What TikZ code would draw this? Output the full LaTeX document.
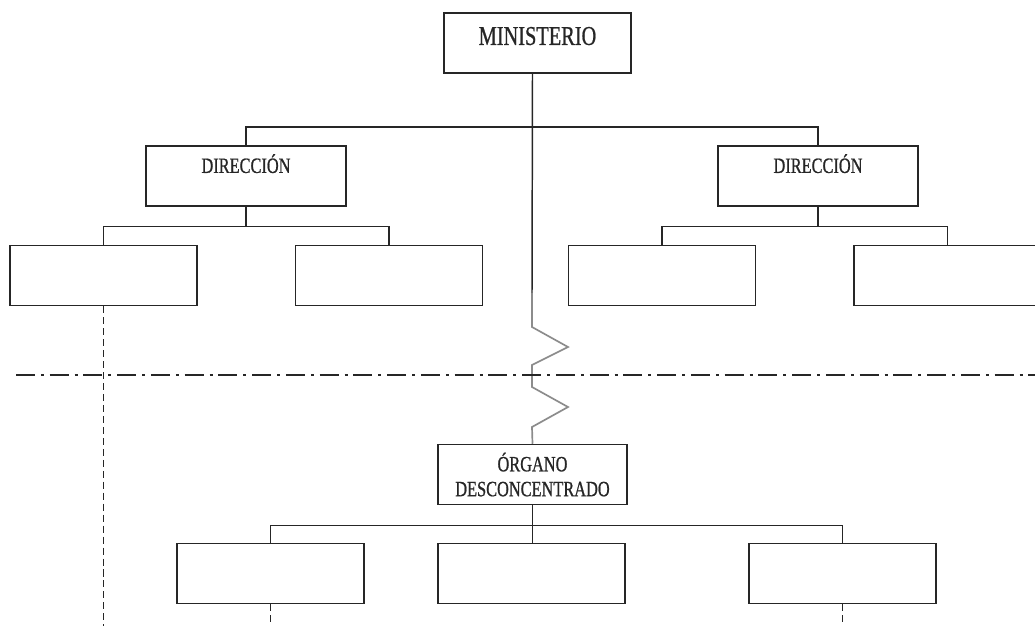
\documentclass[tikz,border=0pt]{standalone}
\usepackage{fontspec}
\setmainfont[FakeStretch=0.75,FakeBold=0.8]{Liberation Serif}
\usetikzlibrary{positioning}

\begin{document}
\begin{tikzpicture}[x=0.025cm,y=-0.025cm,line width=1.05pt,color=black!85,
    unit/.style={draw, inner sep=0pt, minimum width=4.675cm, minimum height=1.5cm},
    head/.style={unit, text height=22.7pt, text depth=20pt, font=\fontsize{19.3}{22}\selectfont},
    dir/.style={unit, minimum width=5cm, text height=19.1pt, text depth=23.5pt, font=\fontsize{15.5}{17.7}\selectfont},
    organ/.style={unit, minimum width=4.725cm, align=center, font=\fontsize{15.5}{17.7}\selectfont},
    zig/.style={draw=black!45, line width=1.2pt},
    drop/.style={dash pattern=on 5pt off 2.8pt},
    cut/.style={dash pattern=on 13.5pt off 4.2pt on 2.1pt off 4.2pt}]
  \clip (0,0) rectangle (1035,626);
  % upper level
  \node[head] (min) at (537.5,43) {MINISTERIO};
  \node[dir] (dirL) at (246,176) {DIRECCIÓN};
  \node[dir] (dirR) at (818,176) {DIRECCIÓN};
  \foreach \n/\x in {subLA/103.5, subLB/389, subRA/662, subRB/947.5}
    \node[unit] (\n) at (\x,275.5) {};
  % lower level
  \node[organ] (org) at (532.5,474.5) {ÓRGANO\\DESCONCENTRADO};
  \foreach \n/\x in {subOA/270.5, subOB/531.5, subOC/842.5}
    \node[unit] (\n) at (\x,573.5) {};
  % connectors
  \coordinate (zz) at (532,293);
  \coordinate (bus) at (532,127);
  \draw (min.south -| org.north) -- (zz);
  \draw (dirL.north) |- (bus) -| (dirR.north);
  \draw (dirL.south) -- ++(0,20) coordinate (jL);
  \draw (subLA.north) |- (jL) -| (subLB.north);
  \draw (dirR.south) -- ++(0,20) coordinate (jR);
  \draw (subRA.north) |- (jR) -| (subRB.north);
  \draw[zig] (zz) -- ++(0,34) -- ++(36,20) -- ++(-36,18) -- ++(0,22)
    -- ++(36,20) -- ++(-36,20) -- (org.north);
  \draw (org.south) -- ++(0,20) coordinate (jO);
  \draw (subOA.north) |- (jO) -| (subOC.north);
  \draw (jO) -- (jO |- subOB.north);
  % boundary and dashed drops
  \coordinate (cutL) at (16,375);
  \coordinate (cutR) at (1035,375);
  \draw[cut] (cutL) -- (cutR);
  \coordinate (floor) at (0,626);
  \foreach \n in {subLA, subOA, subOC}
    \draw[drop] (\n.south) -- (\n.south |- floor);
\end{tikzpicture}
\end{document}
